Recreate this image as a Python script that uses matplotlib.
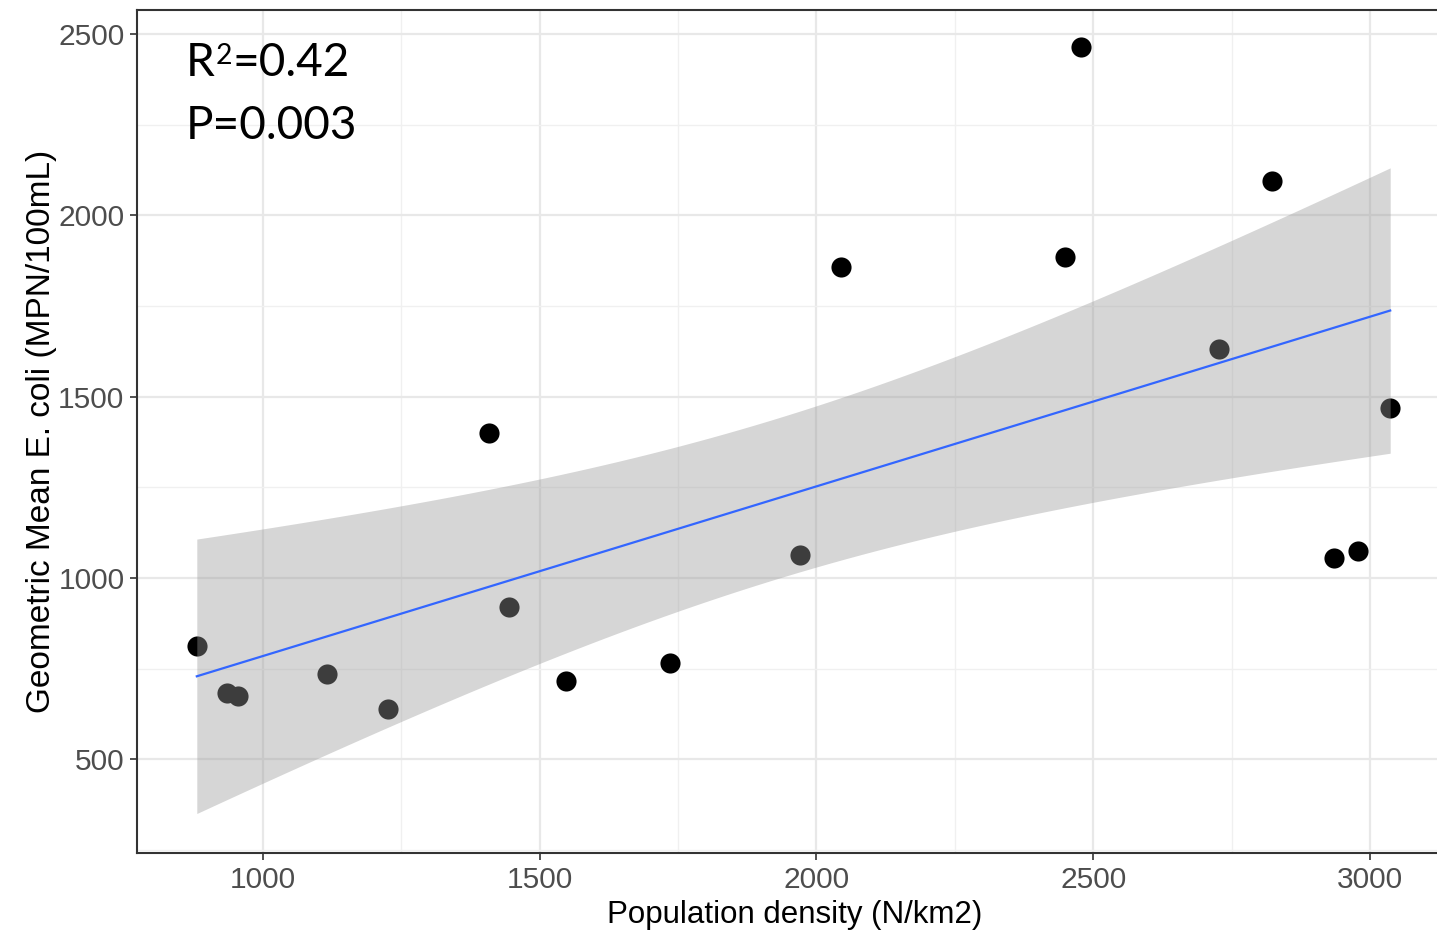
import numpy as np
import matplotlib
matplotlib.use("Agg")
import matplotlib.pyplot as plt
from matplotlib.ticker import MultipleLocator

# Data
pop_density = [881, 935, 955, 1117, 1226, 1408, 1444, 1547, 1736, 1971,
               2045, 2449, 2477, 2727, 2823, 2935, 2977, 3036]
ecoli_gm = [811, 682, 673, 734, 638, 1401, 921, 715, 764, 1062,
            1858, 1886, 2464, 1632, 2095, 1054, 1073, 1470]
x_ticks = [1000, 1500, 2000, 2500, 3000]
y_ticks = [500, 1000, 1500, 2000, 2500]
annot_r2_base = "R"
annot_r2_sup = "2"
annot_r2_val = "=0.42"
annot_p = "P=0.003"

x = np.array(pop_density, dtype=float)
y = np.array(ecoli_gm, dtype=float)

# Linear fit with 95% confidence band (as geom_smooth(method='lm'))
n = len(x)
slope, intercept = np.polyfit(x, y, 1)
resid = y - (slope * x + intercept)
s = np.sqrt(np.sum(resid ** 2) / (n - 2))
xbar = x.mean()
sxx = np.sum((x - xbar) ** 2)
xs = np.linspace(x.min(), x.max(), 80)
ys = slope * xs + intercept
se = s * np.sqrt(1.0 / n + (xs - xbar) ** 2 / sxx)
tq = 2.1199  # t(0.975, df=16)
lo, hi = ys - tq * se, ys + tq * se

W, H = 1437, 933
fig = plt.figure(figsize=(W / 100, H / 100), dpi=100)
ax = fig.add_axes([137 / W, 1 - 853 / H, (1450 - 137) / W, (853 - 10) / H])

ax.scatter(x, y, s=210, color="black", linewidths=0, zorder=2)
ax.fill_between(xs, lo, hi, color="#999999", alpha=0.4, linewidth=0, zorder=3)
ax.plot(xs, ys, color="#3366FF", linewidth=1.6, zorder=4)

ax.set_xlim(773, 3144)
ax.set_ylim(241, 2567)
ax.xaxis.set_minor_locator(MultipleLocator(250))
ax.yaxis.set_minor_locator(MultipleLocator(250))
ax.set_xticks(x_ticks)
ax.set_yticks(y_ticks)
ax.set_xticklabels([str(v) for v in x_ticks])
ax.set_yticklabels([str(v) for v in y_ticks])

ax.grid(True, which="major", color="#E8E8E8", linewidth=1.6, zorder=0)
ax.grid(True, which="minor", color="#F0F0F0", linewidth=1.0, zorder=0)
ax.set_axisbelow(True)

for side in ["left", "bottom", "top"]:
    ax.spines[side].set_color("#333333")
    ax.spines[side].set_linewidth(1.5)
ax.spines["right"].set_visible(False)

ax.tick_params(axis="both", which="major", direction="out", length=5, width=1.2,
               color="#333333", labelcolor="#4D4D4D", labelsize=21.5, pad=4)
ax.tick_params(axis="both", which="minor", length=0)
for lab in ax.get_xticklabels() + ax.get_yticklabels():
    lab.set_family("Liberation Sans")

ax.set_xlabel("Population density (N/km2)", fontsize=22.5, family="Liberation Sans", color="black")
ax.set_ylabel("Geometric Mean E. coli (MPN/100mL)", fontsize=24, family="Liberation Sans", color="black")
ax.xaxis.set_label_coords((795 - 137) / (1450 - 137), -(900 - 853) / (853 - 10))
ax.yaxis.set_label_coords(-(137 - 57) / (1450 - 137), (853 - 431) / (853 - 10))

fs = 33
t_r = fig.text(186 / W, 1 - 76 / H, annot_r2_base, fontsize=fs, family="Lato",
               color="black", va="baseline", ha="left")
t_sup = ax.annotate(annot_r2_sup, xy=(1, 1), xycoords=t_r, xytext=(0.5, -1),
                    textcoords="offset points", fontsize=fs * 0.62, family="Lato",
                    color="black", va="top", ha="left", annotation_clip=False)
ax.annotate(annot_r2_val, xy=(1, 0), xycoords=(t_sup, t_r), xytext=(0, 0),
            textcoords="offset points", fontsize=fs, family="Lato",
            color="black", va="bottom", ha="left", annotation_clip=False)
fig.text(186 / W, 1 - 139 / H, annot_p, fontsize=fs, family="Lato",
         color="black", va="baseline", ha="left")

fig.savefig("out.png", dpi=100)
